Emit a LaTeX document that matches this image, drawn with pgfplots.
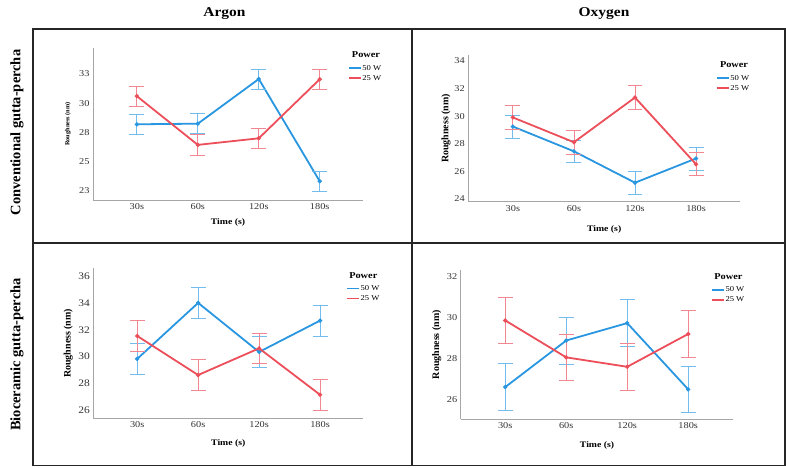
\documentclass[border=0pt]{standalone}
\usepackage{fontspec}
\setmainfont{Liberation Serif}[FakeStretch=1.15]
\newfontfamily\plainserif{Liberation Serif}
\usepackage{pgfplots}
\pgfplotsset{compat=1.18}
\definecolor{bl}{RGB}{40,150,225}
\definecolor{rd}{RGB}{236,78,90}
\definecolor{blL}{RGB}{115,188,238}
\definecolor{rdL}{RGB}{242,135,145}
\tikzset{pw/.style={font=\bfseries\fontsize{9}{10}\selectfont}}
\pgfplotsset{
  panel/.style={
    scale only axis, clip=false,
    axis x line=bottom, axis y line=left,
    axis line style={-, black!35, line width=0.7pt},
    major tick length=0pt,
    xtick={0,1,2,3}, xticklabels={30s,60s,120s,180s},
    tick label style={font=\fontsize{9}{10}\selectfont, text=black!80},
    /pgf/number format/assume math mode=true,
    xlabel={\textbf{Time (s)}}, ylabel={\plainserif\bfseries Roughness (nm)},
    xlabel style={font=\fontsize{8.5}{9}\selectfont, anchor=center},
    ylabel style={font=\fontsize{10}{11}\selectfont, anchor=center},
    legend style={draw=none, fill=none, anchor=north west, font=\fontsize{7.5}{8}\selectfont,
      inner sep=0pt, row sep=2bp, nodes={inner sep=0.75pt, text height=5.5bp, text depth=1bp}},
    legend cell align=left,
    legend image code/.code={\draw[#1] (0bp,0bp) -- (12bp,0bp);},
  },
  s50/.style={bl, line width=1.8pt, mark=*, mark size=1.1pt, forget plot,
    error bars/.cd, y dir=both, y explicit,
    error bar style={line width=0.8pt, color=blL},
    error mark options={rotate=90, line width=0.8pt, color=blL, mark size=7.5pt}},
  s25/.style={rd, line width=1.8pt, mark=*, mark size=1.1pt, forget plot,
    error bars/.cd, y dir=both, y explicit,
    error bar style={line width=0.8pt, color=rdL},
    error mark options={rotate=90, line width=0.8pt, color=rdL, mark size=7.5pt}},
}
\begin{document}
\begin{tikzpicture}[x=1bp,y=1bp]
\path[fill=white] (0,0) rectangle (786,468);
% frames
\draw[black!85, line width=1.6pt] (33,439) rectangle (412,225);
\draw[black!85, line width=1.6pt] (412,439) rectangle (785,225);
\draw[black!85, line width=1.6pt] (33,225) rectangle (412,2.5);
\draw[black!85, line width=1.6pt] (412,225) rectangle (785,2.5);
\node[font=\bfseries\fontsize{13.5}{14}\selectfont] at (224.5,454) {Argon};
\node[font=\bfseries\fontsize{13.5}{14}\selectfont] at (604,454) {Oxygen};
\node[font=\plainserif\bfseries\fontsize{14.5}{15}\selectfont, rotate=90] at (17,335.5) {Conventional gutta-percha};
\node[font=\plainserif\bfseries\fontsize{14.5}{15}\selectfont, rotate=90] at (17,113.5) {Bioceramic gutta-percha};

% top-left: Conventional / Argon
\begin{axis}[panel, at={(93bp,268bp)}, anchor=south west, width=270bp, height=152bp,
  xmin=-0.72, xmax=3.71, ymin=21.73, ymax=34.72,
  ytick={22.5,25,27.5,30,32.5}, yticklabels={23,25,28,30,33},
  ylabel style={font=\fontsize{6.3}{7}\selectfont},
  xlabel style={at={(axis description cs:0.5,-0.151)}},
  ylabel style={at={(axis description cs:-0.093,0.5)}},
  legend style={at={(axis description cs:0.944,0.897)}}]
\addplot[s50] coordinates {(0,28.2) +- (0,0.84) (1,28.25) +- (0,0.85) (2,32.07) +- (0,0.85) (3,23.33) +- (0,0.85)};
\addplot[s25] coordinates {(0,30.6) +- (0,0.85) (1,26.44) +- (0,0.88) (2,27.0) +- (0,0.84) (3,32.05) +- (0,0.85)};
\addlegendimage{bl, line width=1.6pt}\addlegendentry{50 W}
\addlegendimage{rd, line width=1.6pt}\addlegendentry{25 W}
\node[pw] at (axis description cs:1.011,0.954) {Power};
\end{axis}

% top-right: Conventional / Oxygen
\begin{axis}[panel, at={(468.3bp,266.3bp)}, anchor=south west, width=271.7bp, height=146.7bp,
  xmin=-0.73, xmax=3.72, ymin=23.78, ymax=34.44,
  ytick={24,26,28,30,32,34},
  xlabel style={at={(axis description cs:0.5,-0.186)}},
  ylabel style={at={(axis description cs:-0.082,0.5)}},
  legend style={at={(axis description cs:0.911,0.870)}}]
\addplot[s50] coordinates {(0,29.24) +- (0,0.83) (1,27.44) +- (0,0.82) (2,25.16) +- (0,0.83) (3,26.92) +- (0,0.84)};
\addplot[s25] coordinates {(0,29.9) +- (0,0.87) (1,28.1) +- (0,0.85) (2,31.35) +- (0,0.85) (3,26.5) +- (0,0.84)};
\addlegendimage{bl, line width=1.6pt}\addlegendentry{50 W}
\addlegendimage{rd, line width=1.6pt}\addlegendentry{25 W}
\node[pw] at (axis description cs:0.978,0.932) {Power};
\end{axis}

% bottom-left: Bioceramic / Argon
\begin{axis}[panel, at={(93.3bp,49.7bp)}, anchor=south west, width=270bp, height=150bp,
  xmin=-0.72, xmax=3.71, ymin=25.375, ymax=36.625,
  ytick={26,28,30,32,34,36},
  yticklabel style={font=\fontsize{10}{11}\selectfont},
  xlabel style={at={(axis description cs:0.5,-0.167)}},
  ylabel style={at={(axis description cs:-0.093,0.5)}},
  legend style={at={(axis description cs:0.936,0.893)}}]
\addplot[s50] coordinates {(0,29.83) +- (0,1.18) (1,34.03) +- (0,1.18) (2,30.35) +- (0,1.16) (3,32.7) +- (0,1.15)};
\addplot[s25] coordinates {(0,31.55) +- (0,1.16) (1,28.62) +- (0,1.16) (2,30.62) +- (0,1.13) (3,27.14) +- (0,1.14)};
\addlegendimage{bl, line width=1.6pt}\addlegendentry{50 W}
\addlegendimage{rd, line width=1.6pt}\addlegendentry{25 W}
\node[pw] at (axis description cs:1.0,0.949) {Power};
\end{axis}

% bottom-right: Bioceramic / Oxygen
\begin{axis}[panel, at={(460.7bp,48.7bp)}, anchor=south west, width=272.6bp, height=149.3bp,
  xmin=-0.73, xmax=3.74, ymin=25.06, ymax=32.34,
  ytick={26,28,30,32},
  xlabel style={at={(axis description cs:0.5,-0.177)}},
  ylabel style={at={(axis description cs:-0.088,0.5)}},
  legend style={at={(axis description cs:0.918,0.896)}}]
\addplot[s50] coordinates {(0,26.63) +- (0,1.15) (1,28.9) +- (0,1.15) (2,29.75) +- (0,1.15) (3,26.52) +- (0,1.12)};
\addplot[s25] coordinates {(0,29.88) +- (0,1.14) (1,28.08) +- (0,1.14) (2,27.62) +- (0,1.14) (3,29.22) +- (0,1.15)};
\addlegendimage{bl, line width=1.6pt}\addlegendentry{50 W}
\addlegendimage{rd, line width=1.6pt}\addlegendentry{25 W}
\node[pw] at (axis description cs:0.982,0.953) {Power};
\end{axis}
\end{tikzpicture}
\end{document}
